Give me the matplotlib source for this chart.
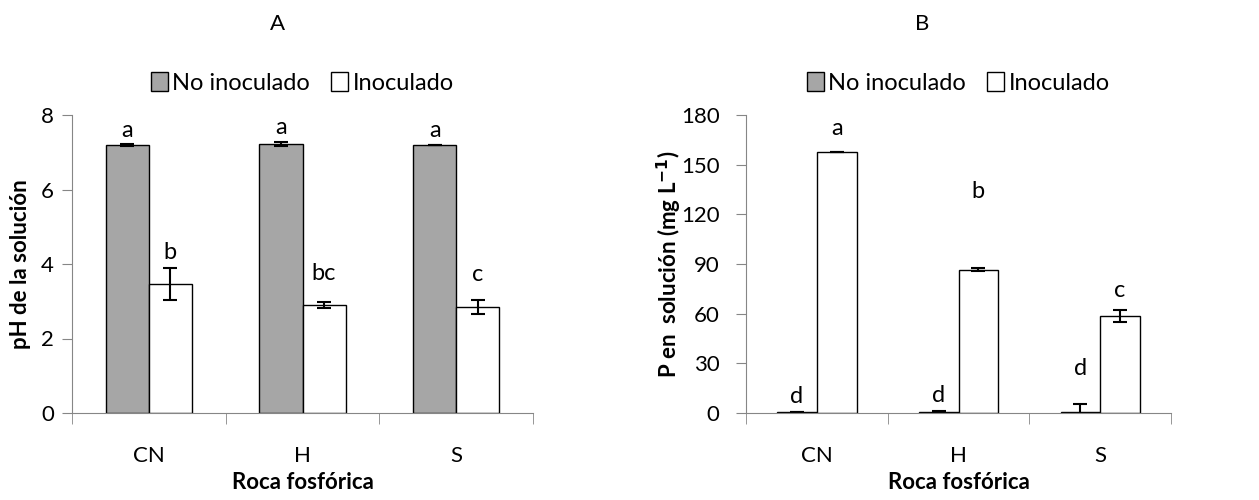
import numpy as np
import matplotlib.pyplot as plt

plt.rcParams['font.family'] = ['Lato', 'DejaVu Sans']

rocas = ["CN", "H", "S"]
series = ["No inoculado", "Inoculado"]

ph_no = [7.19, 7.22, 7.20]
ph_no_err = [0.02, 0.05, 0.0]
ph_in = [3.46, 2.90, 2.85]
ph_in_err = [0.43, 0.07, 0.18]
ph_let_no = ["a", "a", "a"]
ph_let_in = ["b", "bc", "c"]

p_no = [0.6, 0.9, 0.8]
p_no_err = [0.2, 0.5, 4.5]
p_in = [157.5, 86.5, 58.6]
p_in_err = [0.0, 1.0, 3.8]
p_let_no = ["d", "d", "d"]
p_let_in = ["a", "b", "c"]

fig = plt.figure(figsize=(12.59, 5), dpi=100)
axA = fig.add_axes([72/1259, 1-413/500, (533-72)/1259, 298/500])
axB = fig.add_axes([746/1259, 1-413/500, (1171-746)/1259, 298/500])

GRAY = "#a6a6a6"
SPINE = "#868686"
FS = 16
w = 0.28
x = np.arange(len(rocas))


def panel(ax, no, no_err, inn, inn_err, let_no, let_in, ymax, step, ylabel, title, tx, ypad, off_no, off_in):
    ax.bar(x - w/2, no, w, color=GRAY, edgecolor="black", linewidth=1, label=series[0])
    ax.bar(x + w/2, inn, w, color="white", edgecolor="black", linewidth=1, label=series[1])
    ax.errorbar(x - w/2, no, yerr=no_err, fmt="none", ecolor="black", elinewidth=1.5, capsize=5, capthick=1.5)
    ax.errorbar(x + w/2, inn, yerr=inn_err, fmt="none", ecolor="black", elinewidth=1.5, capsize=5, capthick=1.5)
    for i in range(len(rocas)):
        ax.text(x[i] - w/2, no[i] + no_err[i] + off_no[i], let_no[i], ha="center", va="bottom", fontsize=FS + 1)
        ax.text(x[i] + w/2, inn[i] + inn_err[i] + off_in[i], let_in[i], ha="center", va="bottom", fontsize=FS + 1)
    ax.set_xlim(-0.5, len(rocas) - 0.5)
    ax.set_ylim(0, ymax)
    ax.set_yticks(np.arange(0, ymax + step/2, step))
    ax.set_xticks(x)
    ax.set_xticklabels(rocas, fontsize=FS)
    ax.set_xticks(np.arange(-0.5, len(rocas)), minor=True)
    ax.tick_params(axis="x", which="major", length=0, pad=24)
    ax.tick_params(axis="x", which="minor", length=8, color=SPINE, direction="out")
    ax.tick_params(axis="y", length=7, color=SPINE, labelsize=FS, pad=ypad)
    for s in ["top", "right"]:
        ax.spines[s].set_visible(False)
    for s in ["left", "bottom"]:
        ax.spines[s].set_color(SPINE)
    ax.set_xlabel("Roca fosfórica", fontsize=FS, fontweight="bold", labelpad=4)
    ax.set_ylabel(ylabel, fontsize=FS, fontweight="bold")
    ax.set_title(title, fontsize=FS, pad=61, color="black", x=tx)
    ax.legend(loc="lower center", bbox_to_anchor=(0.5, 1.04), ncol=2, frameon=False, fontsize=FS + 1,
              handlelength=0.7, handleheight=0.9, handletextpad=0.2, columnspacing=0.9, borderaxespad=0)


panel(axA, ph_no, ph_no_err, ph_in, ph_in_err, ph_let_no, ph_let_in, 8, 2,
      "pH de la solución", "A", 0.445, 6, [0.1, 0.1, 0.1], [0.15, 0.5, 0.4])
panel(axB, p_no, p_no_err, p_in, p_in_err, p_let_no, p_let_in, 180, 30,
      "P en  solución (mg L$^{\\mathbf{-1}}$)", "B", 0.414, 12, [3, 3, 15], [8, 40, 5])
axA.yaxis.set_label_coords(-0.088, 0.5)
axB.yaxis.set_label_coords(-0.145, 0.5)

fig.savefig("out.png", dpi=100)
